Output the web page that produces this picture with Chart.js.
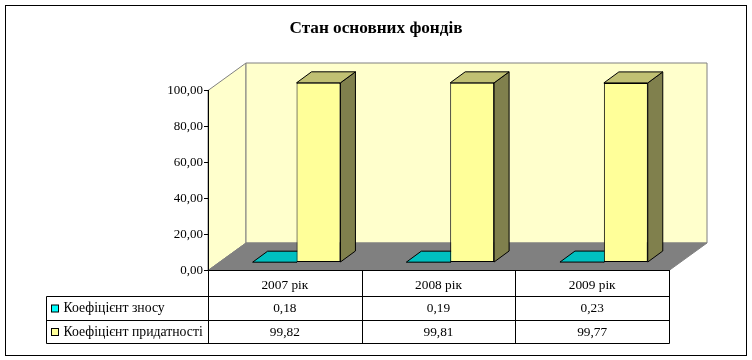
<!DOCTYPE html>
<html>
<head>
<meta charset="utf-8">
<style>
  html, body { margin: 0; padding: 0; background: #ffffff; }
  canvas { display: block; }
</style>
<script src="https://cdn.jsdelivr.net/npm/chart.js@4/dist/chart.umd.min.js"></script>
</head>
<body>
<canvas id="chart" width="752" height="360"></canvas>
<script>
const categories = ['2007 рік', '2008 рік', '2009 рік'];
const seriesNames = ['Коефіцієнт зносу', 'Коефіцієнт придатності'];
const znosValues = [0.18, 0.19, 0.23];
const prydatnistValues = [99.82, 99.81, 99.77];

const fontName = '"Liberation Serif", serif';

// 3d look of the old Excel chart: wall depth, bar depth, and how far bars sit from the front
const wallDepth = {x: 38, y: -27.5};
const barDepth = {x: 15, y: -11};
const barShift = {x: 11.7, y: -8};

const comma = v => v.toFixed(2).replace('.', ',');

function poly(ctx, points, fill, stroke) {
    ctx.beginPath();
    points.forEach((p, i) => i ? ctx.lineTo(p[0], p[1]) : ctx.moveTo(p[0], p[1]));
    ctx.closePath();
    ctx.fillStyle = fill;
    ctx.fill();
    if (stroke) {
        ctx.strokeStyle = stroke;
        ctx.lineWidth = 1;
        ctx.stroke();
    }
}

function line(ctx, x1, y1, x2, y2) {
    ctx.beginPath();
    ctx.moveTo(x1, y1);
    ctx.lineTo(x2, y2);
    ctx.stroke();
}

const chart3d = {
    id: 'chart3d',
    beforeDraw: (chart) => {
        const {ctx, chartArea: a} = chart;
        const dx = wallDepth.x, dy = wallDepth.y;
        ctx.save();
        // outer frame
        ctx.strokeStyle = '#000';
        ctx.lineWidth = 1;
        ctx.strokeRect(5.5, 5.5, 741, 350);
        // side wall, back wall, floor
        poly(ctx, [[a.left, a.top], [a.left + dx, a.top + dy], [a.left + dx, a.bottom + dy], [a.left, a.bottom]], '#ffffcc', '#808080');
        poly(ctx, [[a.left + dx, a.top + dy], [a.right + dx, a.top + dy], [a.right + dx, a.bottom + dy], [a.left + dx, a.bottom + dy]], '#ffffcc', '#808080');
        poly(ctx, [[a.left, a.bottom], [a.left + dx, a.bottom + dy], [a.right + dx, a.bottom + dy], [a.right, a.bottom]], '#808080', '#808080');
        ctx.restore();
    },
    beforeDatasetsDraw: (chart) => {
        // top and right faces go first so the front faces cover them
        const {ctx} = chart;
        const dx = barDepth.x, dy = barDepth.y;
        const topColors = ['#00c0c0', '#c0c073'];
        const sideColors = ['#008080', '#80804d'];
        ctx.save();
        ctx.translate(barShift.x, barShift.y);
        chart.data.datasets.forEach((ds, d) => {
            chart.getDatasetMeta(d).data.forEach(bar => {
                const l = bar.x - bar.width / 2, r = bar.x + bar.width / 2;
                poly(ctx, [[r, bar.y], [r + dx, bar.y + dy], [r + dx, bar.base + dy], [r, bar.base]], sideColors[d], '#000');
                poly(ctx, [[l, bar.y], [l + dx, bar.y + dy], [r + dx, bar.y + dy], [r, bar.y]], topColors[d], '#000');
            });
        });
        ctx.restore();
    },
    beforeDatasetDraw: (chart) => {
        chart.ctx.save();
        chart.ctx.translate(barShift.x, barShift.y);
    },
    afterDatasetDraw: (chart) => {
        chart.ctx.restore();
    },
    afterDraw: (chart) => {
        // data table under the plot
        const {ctx, chartArea: a, scales} = chart;
        const rows = [296.5, 320.5, 343.5];
        const tableLeft = 46.5;
        const swatches = ['#00ffff', '#ffff99'];
        const values = [znosValues, prydatnistValues];
        const step = (a.right - a.left) / categories.length;
        const right = Math.round(a.right) + 0.5;
        ctx.save();
        ctx.strokeStyle = '#000';
        ctx.lineWidth = 1;
        rows.forEach(y => line(ctx, tableLeft, y, right, y));
        line(ctx, tableLeft, rows[0], tableLeft, rows[2]);
        for (let i = 0; i <= categories.length; i++) {
            const x = Math.round(a.left + step * i) + 0.5;
            line(ctx, x, a.bottom, x, rows[2]);
        }
        ctx.fillStyle = '#000';
        ctx.textBaseline = 'middle';
        seriesNames.forEach((name, s) => {
            const mid = (rows[s] + rows[s + 1]) / 2;
            ctx.fillStyle = swatches[s];
            ctx.fillRect(51.5, mid - 3.5, 7, 7);
            ctx.strokeRect(51.5, mid - 3.5, 7, 7);
            ctx.fillStyle = '#000';
            ctx.textAlign = 'left';
            ctx.font = '13.75px ' + fontName;
            ctx.fillText(name, 63.5, mid);
            ctx.textAlign = 'center';
            ctx.font = '13.33px ' + fontName;
            values[s].forEach((v, i) => {
                ctx.fillText(comma(v), scales.x.getPixelForValue(i), mid);
            });
        });
        ctx.restore();
    }
};

new Chart(document.getElementById('chart'), {
    type: 'bar',
    data: {
        labels: categories,
        datasets: [
            {
                label: seriesNames[0],
                data: znosValues,
                backgroundColor: '#00c0c0',
                borderColor: '#000',
                borderWidth: 1,
                borderSkipped: false,
                clip: false
            },
            {
                label: seriesNames[1],
                data: prydatnistValues,
                backgroundColor: '#ffff99',
                borderColor: '#000',
                borderWidth: 1,
                borderSkipped: false,
                clip: false
            }
        ]
    },
    plugins: [chart3d],
    options: {
        responsive: false,
        animation: false,
        categoryPercentage: 0.5714,
        barPercentage: 1,
        plugins: {
            legend: {display: false},
            tooltip: {enabled: false},
            title: {
                display: true,
                text: 'Стан основних фондів',
                color: '#000',
                font: {family: fontName, size: 17.2, weight: 'bold'},
                padding: {top: 18.5, bottom: 51.36}
            }
        },
        scales: {
            x: {
                afterFit: s => { s.height = 89.5; },
                grid: {display: false},
                border: {color: '#000'},
                ticks: {color: '#000', font: {family: fontName, size: 13.33}, padding: -1, maxRotation: 0}
            },
            y: {
                min: 0,
                max: 100,
                afterFit: s => { s.width = 208; },
                grid: {drawOnChartArea: false, color: '#000', tickLength: 4},
                border: {color: '#000'},
                ticks: {
                    stepSize: 20,
                    color: '#000',
                    padding: 1,
                    font: {family: fontName, size: 13},
                    callback: v => comma(v)
                }
            },
            // empty axis, only keeps the space right of the plot so the title stays centred on the page
            spacer: {
                position: 'right',
                afterFit: s => { s.width = 83; },
                grid: {display: false},
                border: {display: false},
                ticks: {display: false}
            }
        }
    }
});
</script>
</body>
</html>
